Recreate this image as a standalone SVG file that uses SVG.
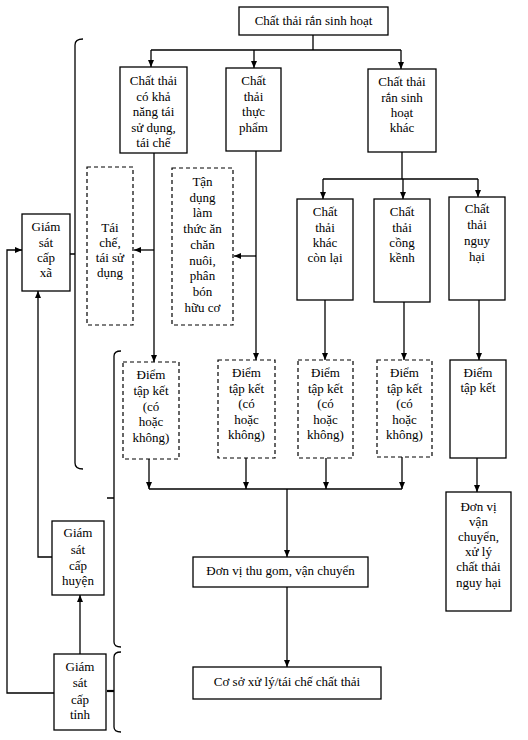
<svg xmlns="http://www.w3.org/2000/svg" width="528" height="740" viewBox="0 0 528 740">
<defs>
<marker id="ah" markerWidth="8" markerHeight="8" refX="7" refY="4" orient="auto" markerUnits="userSpaceOnUse">
<path d="M0,1 L7,4 L0,7 Z" fill="#000"/>
</marker>
<style>
.b{fill:#fff;stroke:#000;stroke-width:1.3}
.d{fill:#fff;stroke:#000;stroke-width:1.2;stroke-dasharray:4 3}
.c{fill:none;stroke:#000;stroke-width:1.3}
.a{fill:none;stroke:#000;stroke-width:1.3;marker-end:url(#ah)}
text{font-family:"Liberation Serif","Times New Roman",serif;font-size:13px;fill:#000;text-anchor:middle}
</style>
</defs>
<rect width="528" height="740" fill="#fff"/>

<g id="connectors">
<path class="c" d="M313,35 V50 M151,50 H401"/>
<path class="a" d="M151,50 V67"/>
<path class="a" d="M254,50 V68"/>
<path class="a" d="M401,50 V69"/>
<path class="c" d="M402,152 V179 M323,179 H478"/>
<path class="a" d="M323,179 V199"/>
<path class="a" d="M403,179 V199"/>
<path class="a" d="M478,179 V197"/>
<path class="a" d="M154,153 V362"/>
<path class="a" d="M154,250 H134"/>
<path class="a" d="M256,151 V360"/>
<path class="a" d="M256,256 H234"/>
<path class="a" d="M325,300 V360"/>
<path class="a" d="M404,302 V360"/>
<path class="a" d="M479,300 V360"/>
<path class="a" d="M149,459 V489"/>
<path class="a" d="M246,458 V489"/>
<path class="a" d="M326,458 V489"/>
<path class="a" d="M402,457 V489"/>
<path class="c" d="M149,489 H402"/>
<path class="a" d="M287,489 V557"/>
<path class="a" d="M287,587 V667"/>
<path class="a" d="M477,458 V492"/>
<path class="a" d="M80,654 V595"/>
<path class="a" d="M54,693 H7 V250 H22"/>
<path class="a" d="M52,557 H38 V291"/>
<path class="c" d="M83,39 Q75,39 75,45 V463 Q75,469 83,469 M70,254 H75"/>
<path class="c" d="M121,351 Q114,351 114,356 V642 Q114,647 121,647 M107,498 H114"/>
<path class="c" d="M121,652 Q114,652 114,657 V727 Q114,732 121,732"/>
<path d="M107,691 H114" stroke="#000" stroke-width="2.2"/>
</g>

<g id="n-root"><rect class="b" x="239" y="7" width="149" height="28"/><text x="313.5" y="25">Chất thải rắn sinh hoạt</text></g>

<g id="n-taiche-src"><rect class="b" x="120" y="67" width="67" height="86"/>
<text x="153.5" y="85">Chất thải</text><text x="153.5" y="100.5">có khả</text><text x="153.5" y="116">năng tái</text><text x="153.5" y="131.5">sử dụng,</text><text x="153.5" y="147">tái chế</text></g>

<g id="n-thucpham"><rect class="b" x="226" y="68" width="55" height="83"/>
<text x="253.5" y="85">Chất</text><text x="253.5" y="100.5">thải</text><text x="253.5" y="116">thực</text><text x="253.5" y="131.5">phẩm</text></g>

<g id="n-khac"><rect class="b" x="368" y="69" width="68" height="83"/>
<text x="402" y="86">Chất thải</text><text x="402" y="102">rắn sinh</text><text x="402" y="117">hoạt</text><text x="402" y="132">khác</text></g>

<g id="n-conlai"><rect class="b" x="297" y="199" width="56" height="101"/>
<text x="325" y="216">Chất</text><text x="325" y="232">thải</text><text x="325" y="247">khác</text><text x="325" y="262">còn lại</text></g>

<g id="n-congkenh"><rect class="b" x="374" y="199" width="56" height="103"/>
<text x="402" y="216">Chất</text><text x="402" y="232">thải</text><text x="402" y="247">cồng</text><text x="402" y="262">kềnh</text></g>

<g id="n-nguyhai"><rect class="b" x="449" y="197" width="56" height="103"/>
<text x="477" y="213">Chất</text><text x="477" y="229">thải</text><text x="477" y="245">nguy</text><text x="477" y="261">hại</text></g>

<g id="n-taisudung"><rect class="d" x="87" y="167" width="46" height="158"/>
<text x="110" y="232">Tái</text><text x="110" y="247">chế,</text><text x="110" y="262">tái sử</text><text x="110" y="277">dụng</text></g>

<g id="n-tandung"><rect class="d" x="172" y="168" width="61" height="157"/>
<text x="202.5" y="186">Tận</text><text x="202.5" y="202">dụng</text><text x="202.5" y="217">làm</text><text x="202.5" y="233">thức ăn</text><text x="202.5" y="249">chăn</text><text x="202.5" y="265">nuôi,</text><text x="202.5" y="280">phân</text><text x="202.5" y="296">bón</text><text x="202.5" y="312">hữu cơ</text></g>

<g id="n-gs-xa"><rect class="b" x="22" y="214" width="48" height="77"/>
<text x="46" y="231">Giám</text><text x="46" y="247">sát</text><text x="46" y="262">cấp</text><text x="46" y="277">xã</text></g>

<g id="n-dtk1"><rect class="d" x="123" y="362" width="56" height="97"/>
<text x="151" y="379">Điểm</text><text x="151" y="395">tập kết</text><text x="151" y="411">(có</text><text x="151" y="426">hoặc</text><text x="151" y="442">không)</text></g>

<g id="n-dtk2"><rect class="d" x="218" y="360" width="57" height="98"/>
<text x="246.5" y="377">Điểm</text><text x="246.5" y="393">tập kết</text><text x="246.5" y="408">(có</text><text x="246.5" y="424">hoặc</text><text x="246.5" y="439">không)</text></g>

<g id="n-dtk3"><rect class="d" x="298" y="360" width="55" height="98"/>
<text x="325.5" y="377">Điểm</text><text x="325.5" y="393">tập kết</text><text x="325.5" y="408">(có</text><text x="325.5" y="424">hoặc</text><text x="325.5" y="439">không)</text></g>

<g id="n-dtk4"><rect class="d" x="377" y="360" width="55" height="97"/>
<text x="404.5" y="377">Điểm</text><text x="404.5" y="393">tập kết</text><text x="404.5" y="408">(có</text><text x="404.5" y="424">hoặc</text><text x="404.5" y="439">không)</text></g>

<g id="n-dtk5"><rect class="b" x="450" y="360" width="56" height="98"/>
<text x="478" y="377">Điểm</text><text x="478" y="392">tập kết</text></g>

<g id="n-thugom"><rect class="b" x="193" y="557" width="175" height="30"/><text x="280.5" y="575">Đơn vị thu gom, vận chuyển</text></g>

<g id="n-coso"><rect class="b" x="193" y="667" width="188" height="32"/><text x="287" y="686">Cơ sở xử lý/tái chế chất thải</text></g>

<g id="n-vcnguyhai"><rect class="b" x="446" y="492" width="65" height="119"/>
<text x="478.5" y="511">Đơn vị</text><text x="478.5" y="526">vận</text><text x="478.5" y="541">chuyển,</text><text x="478.5" y="556">xử lý</text><text x="478.5" y="571">chất thải</text><text x="478.5" y="587">nguy hại</text></g>

<g id="n-gs-huyen"><rect class="b" x="52" y="521" width="52" height="74"/>
<text x="78" y="537">Giám</text><text x="78" y="554">sát</text><text x="78" y="570">cấp</text><text x="78" y="585">huyện</text></g>

<g id="n-gs-tinh"><rect class="b" x="54" y="654" width="52" height="76"/>
<text x="80" y="671">Giám</text><text x="80" y="687">sát</text><text x="80" y="704">cấp</text><text x="80" y="719">tỉnh</text></g>
</svg>
